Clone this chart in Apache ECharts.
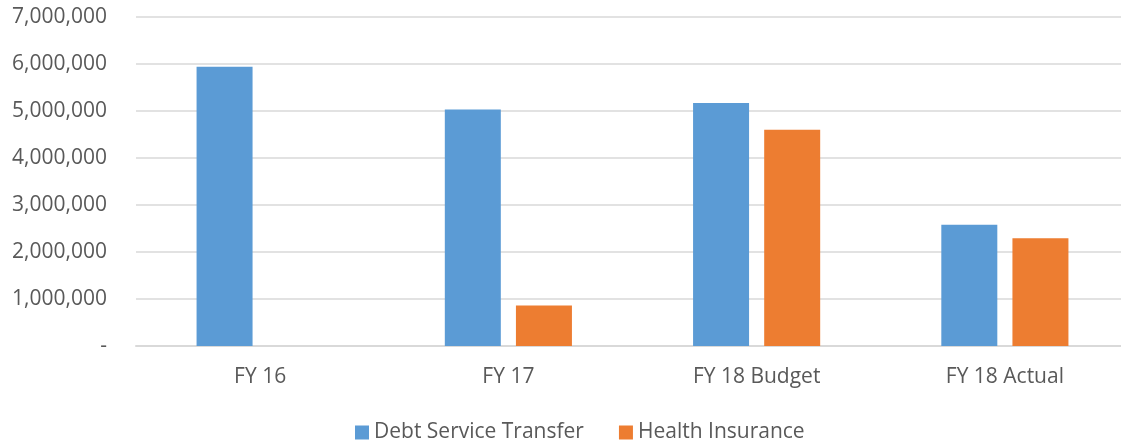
<!DOCTYPE html>
<html>
<head>
<meta charset="utf-8">
<script src="https://cdn.jsdelivr.net/npm/echarts@6/dist/echarts.min.js"></script>
<style>
  html, body { margin: 0; padding: 0; background: #fff; overflow: hidden; }
  #chart { width: 1129px; height: 444px; }
</style>
</head>
<body>
<div id="chart"></div>
<script>
const categories = ['FY 16', 'FY 17', 'FY 18 Budget', 'FY 18 Actual'];
const debtService = [5940000, 5030000, 5170000, 2580000];
const healthInsurance = [null, 860000, 4600000, 2290000];

const chartDom = document.getElementById('chart');
const myChart = echarts.init(chartDom, null, { renderer: 'canvas' });

const fuente = '"Open Sans", sans-serif';

const option = {
    animation: false,
    textStyle: { fontFamily: fuente },
    grid: { left: 136, right: 0, top: 17, bottom: 98 },
    legend: {
        top: 417,
        left: 350,
        itemWidth: 14,
        itemHeight: 14,
        itemGap: 35,
        icon: 'rect',
        textStyle: { fontSize: 21, color: '#595959', fontFamily: fuente },
        data: ['Debt Service Transfer', 'Health Insurance']
    },
    xAxis: {
        type: 'category',
        data: categories,
        axisLine: { lineStyle: { color: '#d9d9d9', width: 2 } },
        axisTick: { show: false },
        axisLabel: { color: '#595959', fontSize: 21, margin: 21, fontFamily: fuente }
    },
    yAxis: {
        type: 'value',
        min: 0,
        max: 7000000,
        interval: 1000000,
        axisLine: { show: false },
        axisTick: { show: false },
        splitLine: { lineStyle: { color: '#d9d9d9', width: 1.5 } },
        axisLabel: {
            color: '#595959',
            fontSize: 21,
            margin: 29,
            fontFamily: fuente,
            formatter: function (v) {
                return v === 0 ? '-' : v.toLocaleString('en-US');
            }
        }
    },
    series: [
        {
            name: 'Debt Service Transfer',
            type: 'bar',
            data: debtService,
            barWidth: 56,
            barGap: '27%',
            itemStyle: { color: '#5b9bd5' }
        },
        {
            name: 'Health Insurance',
            type: 'bar',
            data: healthInsurance,
            barWidth: 56,
            itemStyle: { color: '#ed7d31' }
        }
    ]
};

option && myChart.setOption(option);
</script>
</body>
</html>
